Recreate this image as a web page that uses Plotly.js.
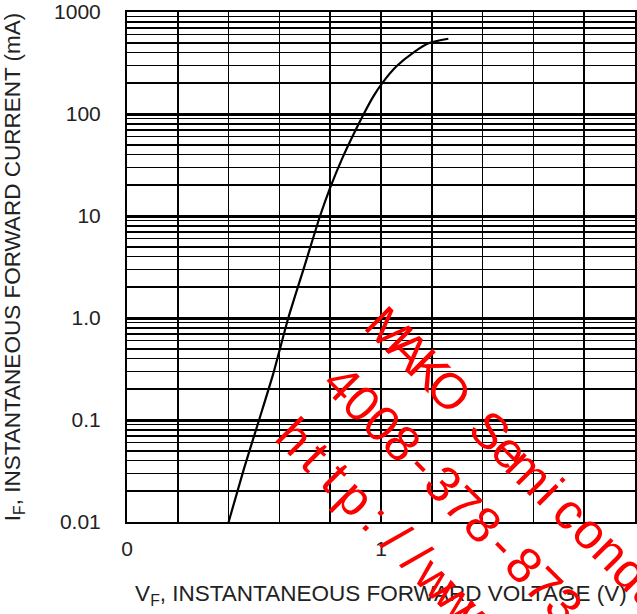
<!DOCTYPE html>
<html>
<head>
<meta charset="utf-8">
<script src="https://cdn.plot.ly/plotly-3.0.1.min.js"></script>
<style>
html,body{margin:0;padding:0;background:#fff;}
#chart{width:637px;height:614px;}
</style>
</head>
<body>
<div id="chart"></div>
<script>
// Forward voltage (V) and forward current (mA)
const vf = [0.40, 0.46, 0.52, 0.575, 0.635, 0.70, 0.76, 0.80, 0.85, 0.89, 0.93, 0.97, 1.005, 1.06, 1.13, 1.19, 1.265];
const iF = [0.01, 0.033, 0.1, 0.28, 1.0, 3.3, 10, 19, 38, 62, 98, 149, 201, 292, 405, 497, 547];

// Axis ticks
const xTickVals = [0, 0.2, 0.4, 0.6, 0.8, 1.0, 1.2, 1.4, 1.6, 1.8, 2.0];
const xTickText = ['0', '', '', '', '', '1', '', '', '', '', '2'];
const yDecades = [0.01, 0.1, 1, 10, 100, 1000];
const yDecadeText = ['0.01', '0.1', '1.0', '10', '100', '1000'];
const yMinor = [
  0.02,0.03,0.04,0.05,0.06,0.07,0.08,0.09,
  0.2,0.3,0.4,0.5,0.6,0.7,0.8,0.9,
  2,3,4,5,6,7,8,9,
  20,30,40,50,60,70,80,90,
  200,300,400,500,600,700,800,900
];

// Watermark lines (fixed-pitch characters, rotated 45 degrees)
const wmLines = ['MAKO Semiconductor', '4008-378-873', 'http://www'];

const FONT = 'Liberation Sans, Arial, sans-serif';
const TXT = '#222222';

const W = 637, H = 614;
const M = {l: 127, r: 2, t: 12, b: 92};
const plotW = W - M.l - M.r, plotH = H - M.t - M.b;

const trace = {
  x: vf, y: iF, type: 'scatter', mode: 'lines',
  line: {color: '#000', width: 2.2, shape: 'spline', smoothing: 0.6},
  hoverinfo: 'skip', showlegend: false
};

// watermark: first-character centre of each line in page pixels, pitch along 45deg
const wmStart = [[388.5, 330], [341.7, 383.3], [295, 437]];
const wmPitch = 28.6;
const wmAng = 45;
const annotations = [];
wmLines.forEach((line, li) => {
  const c = Math.cos(wmAng * Math.PI / 180), s = Math.sin(wmAng * Math.PI / 180);
  [...line].forEach((ch, i) => {
    if (ch === ' ') return;
    const px = wmStart[li][0] + i * wmPitch * c;
    const py = wmStart[li][1] + i * wmPitch * s;
    annotations.push({
      text: ch, xref: 'paper', yref: 'paper',
      x: (px - M.l) / plotW, y: (H - M.b - py) / plotH,
      xanchor: 'center', yanchor: 'middle',
      textangle: wmAng, showarrow: false,
      font: {family: FONT, size: 50, color: '#ff0000'}
    });
  });
});

const layout = {
  width: W, height: H,
  margin: {l: M.l, r: M.r, t: M.t, b: M.b, autoexpand: false},
  paper_bgcolor: '#fff', plot_bgcolor: '#fff',
  font: {family: FONT, color: TXT},
  xaxis: {
    range: [0, 2], tickmode: 'array', tickvals: xTickVals, ticktext: xTickText,
    showgrid: true, gridcolor: '#000', gridwidth: 1.7,
    zeroline: false, showline: true, mirror: true, linecolor: '#000', linewidth: 2,
    ticks: '', ticklabelstandoff: 7,
    tickfont: {family: FONT, size: 21, color: TXT},
    title: {text: 'V<sub>F</sub>, INSTANTANEOUS FORWARD VOLTAGE (V)', font: {family: FONT, size: 22.5, color: TXT}, standoff: 26},
    automargin: false, fixedrange: true
  },
  yaxis: {
    type: 'log', range: [-2, 3], tickmode: 'array', tickvals: yDecades, ticktext: yDecadeText,
    showgrid: true, gridcolor: '#000', gridwidth: 3,
    minor: {tickmode: 'array', tickvals: yMinor, showgrid: true, gridcolor: '#000', gridwidth: 1.6, ticks: ''},
    zeroline: false, showline: true, mirror: true, linecolor: '#000', linewidth: 2,
    ticks: '', ticklabelstandoff: 20,
    tickfont: {family: FONT, size: 21, color: TXT},
    title: {text: 'I<sub>F</sub>, INSTANTANEOUS FORWARD CURRENT (mA)', font: {family: FONT, size: 22.5, color: TXT}, standoff: 31},
    automargin: false, fixedrange: true
  },
  annotations: annotations
};

Plotly.newPlot('chart', [trace], layout, {displayModeBar: false, staticPlot: true});
</script>
</body>
</html>
